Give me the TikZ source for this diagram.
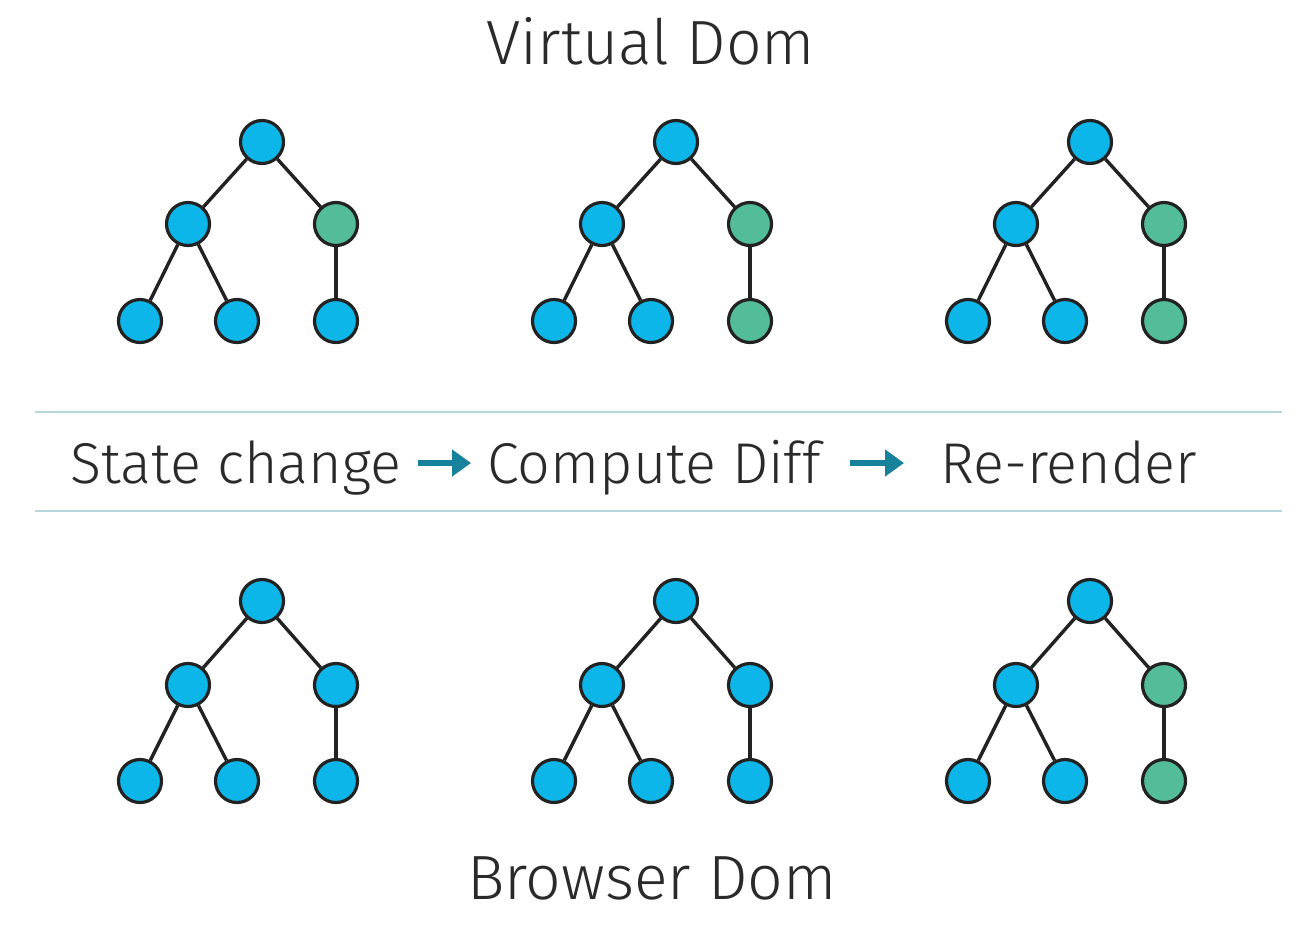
\documentclass[tikz,border=0pt]{standalone}
\usepackage{fontspec}
\setmainfont{Fira Sans}[UprightFont={* Light}]
\usetikzlibrary{arrows.meta}
\definecolor{nblue}{HTML}{0DB6E8}
\definecolor{ngreen}{HTML}{52BD98}
\definecolor{nline}{HTML}{222222}
\definecolor{sep}{HTML}{B7D5DE}
\definecolor{arr}{HTML}{17829C}
\definecolor{txt}{HTML}{2A2A2A}
\tikzset{
  dnode/.style={circle,draw=nline,line width=3.2pt,minimum size=43pt,inner sep=0pt},
  blue/.style={dnode,fill=nblue},
  green/.style={dnode,fill=ngreen},
  edge/.style={draw=nline,line width=3.4pt},
  sepline/.style={draw=sep,line width=2pt},
  flow/.style={draw=arr,line width=6pt,-{Triangle[length=19pt,width=26pt]}},
  big/.style={text=txt,font=\fontsize{62.5}{70}\selectfont,inner sep=0pt,anchor=base},
  mid/.style={text=txt,font=\fontsize{57.5}{64}\selectfont,inner sep=0pt,anchor=base},
}
\newcommand\mytree[7]{%
  \node[blue] (#1r) at (#2+262,#3) {};
  \node[blue] (#1a) at (#2+188,#4) {};
  \node[#6] (#1b) at (#2+336,#4) {};
  \node[blue] (#1c) at (#2+140,#5) {};
  \node[blue] (#1d) at (#2+237,#5) {};
  \node[#7] (#1e) at (#2+336,#5) {};
  \draw[edge] (#1r) -- (#1a);
  \draw[edge] (#1r) -- (#1b);
  \draw[edge] (#1a) -- (#1c);
  \draw[edge] (#1a) -- (#1d);
  \draw[edge] (#1b) -- (#1e);
}
\begin{document}
\begin{tikzpicture}[x=1pt,y=-1pt]
\useasboundingbox[fill=white] (0,0) rectangle (1305,938);
\node[big] (title) at (651,64) {Virtual Dom};
\mytree{ta}{0}{142}{224}{321}{green}{blue}
\mytree{tb}{414}{142}{224}{321}{green}{green}
\mytree{tc}{828}{142}{224}{321}{green}{green}
\coordinate (l1a) at (35,412); \coordinate (l1b) at (1282,412);
\coordinate (l2a) at (35,511); \coordinate (l2b) at (1282,511);
\draw[sepline] (l1a) -- (l1b);
\draw[sepline] (l2a) -- (l2b);
\node[mid,anchor=base west] (s1) at (70,483) {State change};
\node[mid,anchor=base west] (s2) at (487,483) {Compute Diff};
\node[mid,anchor=base west] (s3) at (940,483) {Re-render};
\coordinate (a1s) at (418,463); \coordinate (a1e) at (471,463);
\coordinate (a2s) at (850,463); \coordinate (a2e) at (904,463);
\draw[flow] (a1s) -- (a1e);
\draw[flow] (a2s) -- (a2e);
\mytree{ba}{0}{601}{685}{781}{blue}{blue}
\mytree{bb}{414}{601}{685}{781}{blue}{blue}
\mytree{bc}{828}{601}{685}{781}{green}{green}
\node[big] (btitle) at (652,899) {Browser Dom};
\end{tikzpicture}
\end{document}
